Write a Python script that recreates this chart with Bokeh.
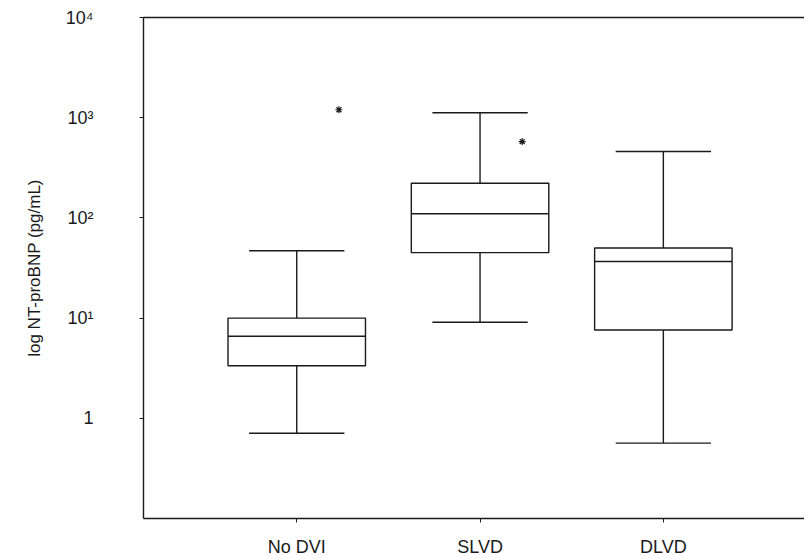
from bokeh.plotting import figure
from bokeh.models import Range1d, FixedTicker, LinearAxis, ColumnDataSource
from bokeh.embed import file_html
from bokeh.resources import INLINE

categories = ["No DVI", "SLVD", "DLVD"]
whisker_low = [0.71, 9.1, 0.565]
q1 = [3.35, 45.0, 7.6]
median = [6.6, 110.0, 36.7]
q3 = [10.0, 222.0, 50.0]
whisker_high = [47.0, 1120.0, 460.0]
outlier_cat = ["No DVI", "SLVD"]
outlier_val = [1200.0, 578.0]

y_ticks = [1, 10, 100, 1000, 10000]
y_tick_labels = ["1", "10\u00b9", "10\u00b2", "10\u00b3", "10\u2074"]

FONT = "Liberation Sans"
INK = "#1a1a1a"
BOX_HALF = 0.375
CAP_HALF = 0.26
OUT_SHIFT = 0.23

xpos = [i + 1 for i in range(len(categories))]

p = figure(width=804, height=559, output_backend="svg", toolbar_location=None,
           y_axis_type="log", x_range=Range1d(0.164, 3.77),
           y_range=Range1d(0.1, 10000),
           min_border_left=143, min_border_right=0, min_border_top=17,
           min_border_bottom=37)
p.outline_line_color = None
p.grid.visible = False
p.background_fill_color = "white"
p.border_fill_color = "white"

src = ColumnDataSource(dict(
    x=xpos,
    left=[x - BOX_HALF for x in xpos],
    right=[x + BOX_HALF for x in xpos],
    capl=[x - CAP_HALF for x in xpos],
    capr=[x + CAP_HALF for x in xpos],
    lo=whisker_low, q1=q1, med=median, q3=q3, hi=whisker_high,
))

# whiskers
p.segment(x0="x", y0="q3", x1="x", y1="hi", source=src, line_color=INK, line_width=1.4)
p.segment(x0="x", y0="lo", x1="x", y1="q1", source=src, line_color=INK, line_width=1.4)
# caps
p.segment(x0="capl", y0="hi", x1="capr", y1="hi", source=src, line_color=INK, line_width=1.4)
p.segment(x0="capl", y0="lo", x1="capr", y1="lo", source=src, line_color=INK, line_width=1.4)
# boxes
p.quad(left="left", right="right", bottom="q1", top="q3", source=src,
       fill_color="white", line_color=INK, line_width=1.4)
# medians
p.segment(x0="left", y0="med", x1="right", y1="med", source=src, line_color=INK, line_width=1.4)

# outliers
ox = [xpos[categories.index(c)] + OUT_SHIFT for c in outlier_cat]
p.scatter(x=ox, y=outlier_val, marker="asterisk", size=7, line_color=INK, line_width=1.2)

# x axis
p.xaxis.ticker = FixedTicker(ticks=xpos)
p.xaxis.major_label_overrides = {x: c for x, c in zip(xpos, categories)}
p.xaxis.major_label_text_font = FONT
p.xaxis.major_label_text_font_size = "18px"
p.xaxis.major_label_text_color = INK
p.xaxis.major_label_standoff = 14
p.xaxis.major_tick_in = 0
p.xaxis.major_tick_out = 4
p.xaxis.minor_tick_line_color = None
p.xaxis.axis_line_color = INK
p.xaxis.major_tick_line_color = INK
p.xaxis.axis_line_width = 1.4

# y axis
p.yaxis.ticker = FixedTicker(ticks=y_ticks)
p.yaxis.major_label_overrides = {t: l for t, l in zip(y_ticks, y_tick_labels)}
p.yaxis.major_label_text_font = FONT
p.yaxis.major_label_text_font_size = "18px"
p.yaxis.major_label_text_color = INK
p.yaxis.major_label_standoff = 46
p.yaxis.major_tick_in = 0
p.yaxis.major_tick_out = 4
p.yaxis.minor_tick_line_color = None
p.yaxis.axis_line_color = INK
p.yaxis.major_tick_line_color = INK
p.yaxis.axis_line_width = 1.4
p.yaxis.axis_label = "log NT-proBNP (pg/mL)"
p.yaxis.axis_label_text_font = FONT
p.yaxis.axis_label_text_font_size = "17px"
p.yaxis.axis_label_text_font_style = "normal"
p.yaxis.axis_label_text_color = INK
p.yaxis.axis_label_standoff = 19

# top frame line
top = LinearAxis(ticker=FixedTicker(ticks=[]), axis_line_color=INK, axis_line_width=1.4,
                 major_tick_line_color=None, minor_tick_line_color=None,
                 major_label_text_font_size="0px")
p.add_layout(top, "above")

open("out.html", "w").write(file_html(p, INLINE))
